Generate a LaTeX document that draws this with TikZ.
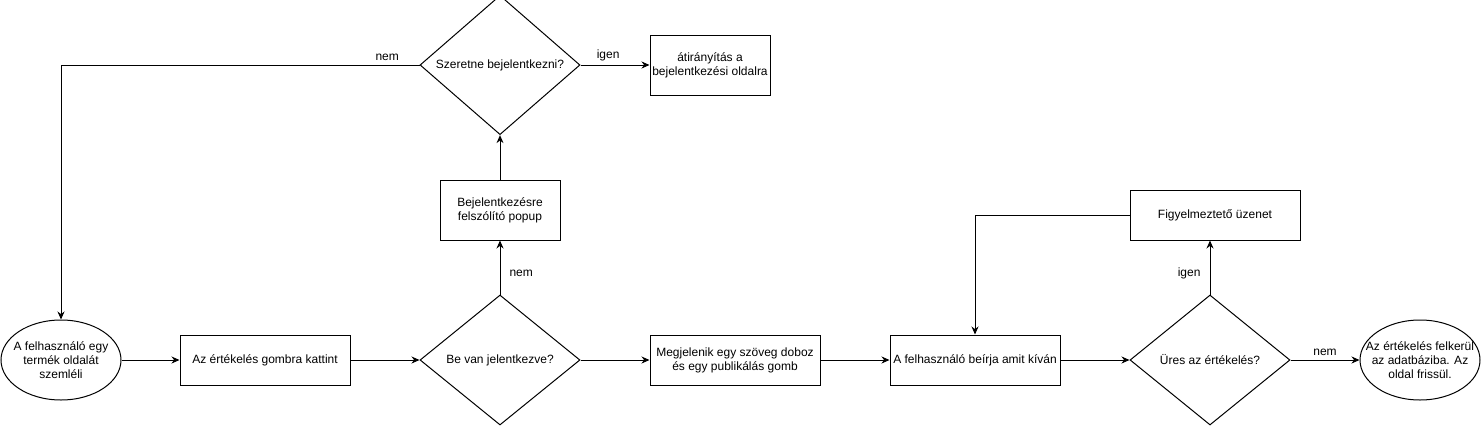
\documentclass[tikz,border=0pt]{standalone}
\usepackage{fontspec}
\setmainfont{Liberation Sans}
\usetikzlibrary{shapes.geometric,arrows.meta}
\begin{document}
\begin{tikzpicture}[x=1pt,y=-1pt,
  font=\fontsize{12}{14}\selectfont,
  line width=1pt,
  box/.style={draw, rectangle, minimum width=#1, minimum height=50pt, inner sep=0pt, align=center},
  box/.default=170pt,
  dec/.style={draw, diamond, minimum width=160pt, minimum height=130pt, inner sep=0pt, align=center},
  oval/.style={draw, ellipse, minimum width=120pt, minimum height=80pt, inner sep=0pt},
  txt/.style={align=center, inner sep=0pt},
  lbl/.style={inner sep=1pt},
  arr/.style={-{Stealth[length=8pt,width=7pt]}},
]
\useasboundingbox (0,0) rectangle (1481,426);
% nodes
\node[oval] (start) at (61,360) {};
\node[txt] (starttext) at (start.center) {A felhasználó egy\\termék oldalát\\szemléli};
\node[box] (click) at (265,360) {Az értékelés gombra kattint};
\node[dec] (logged) at (500,360) {Be van jelentkezve?};
\node[box] (show) at (735,360) {Megjelenik egy szöveg doboz\\és egy publikálás gomb};
\node[box] (type) at (975,360) {A felhasználó beírja amit kíván};
\node[dec] (empty) at (1210,360) {Üres az értékelés?};
\node[oval] (endn) at (1420,360) {};
\node[txt] (endtext) at (endn.center) {Az értékelés felkerül\\az adatbáziba. Az\\oldal frissül.};
\node[box, minimum height=50pt] (warn) at (1215,215) {Figyelmeztető üzenet};
\node[box=120pt, minimum height=60pt] (popup) at (500,210) {Bejelentkezésre\\felszólító popup};
\node[dec] (want) at (500,65) {Szeretne bejelentkezni?};
\node[box=120pt, minimum height=60pt] (redir) at (710,65) {átirányítás a\\bejelentkezési oldalra};
% connectors
\draw[arr] (start) -- (click);
\draw[arr] (click) -- (logged);
\draw[arr] (logged) -- (show);
\draw[arr] (show) -- (type);
\draw[arr] (type) -- (empty);
\draw[arr] (empty) -- node[lbl, above=3pt] {nem} (endn);
\draw[arr] (empty.north) -- node[lbl, left=8pt, pos=0.4] {igen} (empty.north |- warn.south);
\coordinate (wcorner) at (975,215);
\draw[arr] (warn.west) -- (wcorner) -- (type.north);
\draw[arr] (logged.north) -- node[lbl, right=8pt, pos=0.4] {nem} (popup.south);
\draw[arr] (popup.north) -- (want.south);
\coordinate (wantcorner) at (61,65);
\draw[arr] (want.west) -- node[lbl, above=3pt, pos=0.09] {nem} (wantcorner) -- (start.north);
\draw[arr] (want.east) -- node[lbl, above=3pt, pos=0.4] {igen} (redir.west);
\end{tikzpicture}
\end{document}
